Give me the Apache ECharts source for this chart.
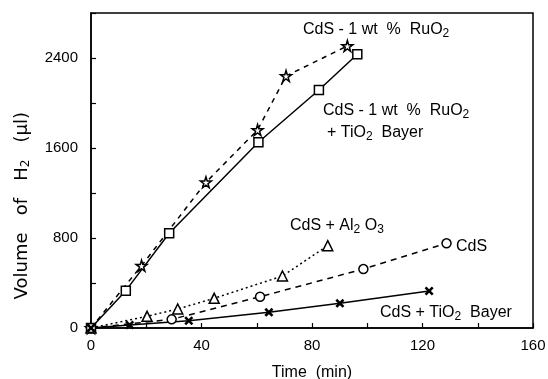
<!DOCTYPE html>
<html><head><meta charset="utf-8">
<script src="https://cdn.jsdelivr.net/npm/echarts@6/dist/echarts.min.js"></script>
<style>html,body{margin:0;padding:0;background:#fff}#c{width:548px;height:379px}</style>
</head><body><div id="c"></div>
<script>
// Data (Time in min, Volume of H2 in µl)
const ruo2 = [[0,0],[18.3,554],[41.6,1295],[60.3,1760],[70.6,2240],[92.8,2507]];
const ruo2Tio2 = [[0,0],[12.6,332],[28.3,842],[60.6,1651],[82.5,2116],[96.4,2433]];
const al2o3 = [[0,0],[20.3,104],[31.4,169],[44.6,264],[69.3,462],[85.7,732]];
const cds = [[0,0],[29.2,77],[61.2,278],[98.6,524],[128.7,753]];
const tio2 = [[0,0],[14,27],[35.4,64],[64.4,139],[90.1,219],[122.4,329]];
const xTicks = [0,40,80,120,160];
const yTicks = [0,800,1600,2400];

const FONT = 'Liberation Sans';
const star = 'path://M50,0 L61,35 L98,35 L68,57 L79,91 L50,70 L21,91 L32,57 L2,35 L39,35 Z';
const aster = 'path://M0,2 L2,0 L5,3 L8,0 L10,2 L7,5 L10,8 L8,10 L5,7 L2,10 L0,8 L3,5 Z';

function ser(data, sym, size, ltype, filled){
  return {type:'line', data:data, symbol:sym, symbolSize:size, showAllSymbol:true,
    lineStyle:{color:'#000', width:1.5, type:ltype},
    itemStyle:{color: filled ? '#000' : '#fff', borderColor:'#000', borderWidth: filled?0:1.5},
    z: 3, animation:false};
}

const rich = {sub:{fontSize:12, fontFamily:FONT, padding:[8,0,0,0], color:'#000'}};
function txt(x,y,s){
  return {type:'text', left:x, top:y, style:{text:s, font:'16px '+FONT, fill:'#000', rich:rich}};
}
const chart = echarts.init(document.getElementById('c'));
chart.setOption({
  animation:false,
  grid:{left:91, right:15, top:13, bottom:51, show:true, borderColor:'#000', borderWidth:1.5,
        containLabel:false, outerBoundsMode:'none'},
  xAxis:{type:'value', min:0, max:160, interval:20,
    axisLine:{lineStyle:{color:'#000', width:1.5}},
    axisTick:{inside:true, length:5, lineStyle:{color:'#000', width:1.2}},
    axisLabel:{color:'#000', fontFamily:FONT, fontSize:15, margin:10,
      formatter:v=> xTicks.includes(v)? String(v):''},
    splitLine:{show:false},
    name:'Time  (min)', nameLocation:'middle', nameGap:37,
    nameTextStyle:{color:'#000', fontFamily:FONT, fontSize:16}},
  yAxis:{type:'value', min:0, max:2800, interval:400,
    axisLine:{lineStyle:{color:'#000', width:1.5}},
    axisTick:{inside:true, length:5, lineStyle:{color:'#000', width:1.2}},
    axisLabel:{color:'#000', fontFamily:FONT, fontSize:15, margin:13,
      formatter:v=> yTicks.includes(v)? String(v):''},
    splitLine:{show:false}},
  graphic:[
    {type:'text', left:13, top:112, rotation:Math.PI/2, style:{text:'Volume   of   H{sub|2}   (μl)', font:'18px DejaVu Sans', fill:'#000', rich:{sub:{fontSize:12,fontFamily:'DejaVu Sans',padding:[8,0,0,0]}}}},
    txt(303,22,'CdS - 1 wt  %  RuO{sub|2}'),
    txt(323,103,'CdS - 1 wt  %  RuO{sub|2}'),
    txt(327,125,'+ TiO{sub|2}  Bayer'),
    txt(290,218,'CdS + Al{sub|2} O{sub|3}'),
    txt(456,239,'CdS'),
    txt(380,305,'CdS + TiO{sub|2}  Bayer')
  ],
  series:[
    ser(ruo2, star, 11, [5,5], false),
    ser(ruo2Tio2, 'rect', 9, 'solid', false),
    ser(al2o3, 'triangle', 10, [2,3], false),
    ser(cds, 'circle', 9, [6,5], false),
    ser(tio2, aster, 9, 'solid', true)
  ]
});
</script></body></html>
